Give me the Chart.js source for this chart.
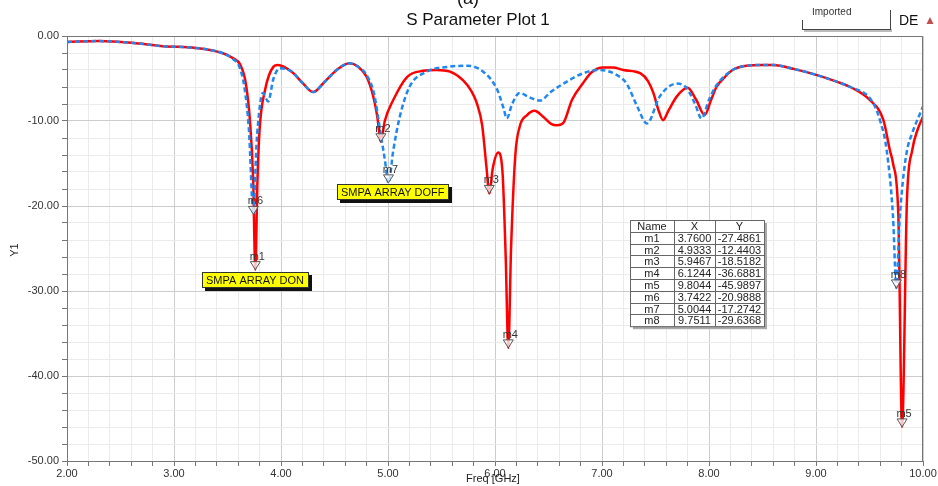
<!DOCTYPE html>
<html>
<head>
<meta charset="utf-8">
<script src="https://cdn.jsdelivr.net/npm/chart.js@4"></script>
<style>
  html, body { margin: 0; padding: 0; background: #fff; }
  #chart { display: block; }
</style>
</head>
<body>
<canvas id="chart" width="938" height="486"></canvas>
<script>
// SMPA ARRAY DON (red, solid)
var donFreq = [2.0, 2.3, 2.6, 2.9, 3.2, 3.45, 3.55, 3.62, 3.67, 3.71, 3.74, 3.76, 3.78, 3.80, 3.85, 3.93, 3.97,
  4.1, 4.2, 4.3, 4.4, 4.52, 4.64, 4.72, 4.8, 4.86, 4.9, 4.9333, 4.97, 5.05, 5.18, 5.33, 5.45, 5.58, 5.70, 5.78,
  5.83, 5.88, 5.92, 5.9467, 5.98, 6.03, 6.07, 6.1, 6.1244, 6.15, 6.19, 6.23, 6.3, 6.37, 6.45, 6.52, 6.58, 6.64,
  6.72, 6.82, 6.9, 7.01, 7.1, 7.2, 7.36, 7.43, 7.48, 7.53, 7.57, 7.62, 7.7, 7.8, 7.88, 7.96, 8.02, 8.07, 8.15,
  8.22, 8.35, 8.5, 8.6, 8.8, 9.01, 9.2, 9.32, 9.5, 9.63, 9.69, 9.72, 9.77, 9.8044, 9.85, 9.90, 9.95, 10.0];
var donS11 = [-0.7, -0.6, -0.8, -1.2, -1.4, -2.0, -2.6, -3.4, -5.5, -10, -17, -27.49, -17, -11, -6.4, -3.6, -3.4,
  -4.2, -5.5, -6.6, -5.5, -4.0, -3.2, -3.6, -4.8, -7, -9.5, -12.44, -10, -7.5, -4.8, -4.1, -4.0, -4.2, -5.2, -6.5,
  -7.9, -10.5, -15.4, -18.52, -15.5, -13.7, -16, -26, -36.69, -25, -14, -10.7, -9.3, -8.8, -9.5, -10.3, -10.5, -10.2,
  -7.5, -5.6, -4.3, -3.7, -3.7, -4.0, -4.4, -5.3, -6.7, -8.8, -9.9, -8.8, -7.1, -6.1, -7.5, -9.3, -7.5, -6.0, -4.8,
  -4.0, -3.5, -3.4, -3.4, -3.9, -4.6, -5.4, -6.0, -7.5, -9.9, -13.4, -15, -21.3, -45.99, -19.3, -13.4, -11, -9.5];

// SMPA ARRAY DOFF (blue, dashed)
var doffFreq = [2.0, 2.3, 2.6, 2.9, 3.2, 3.45, 3.55, 3.61, 3.66, 3.7, 3.7422, 3.77, 3.8, 3.83, 3.88, 3.93, 3.99,
  4.1, 4.2, 4.3, 4.4, 4.52, 4.64, 4.72, 4.8, 4.87, 4.93, 4.97, 5.0044, 5.05, 5.11, 5.2, 5.36, 5.58, 5.74, 5.89,
  6.02, 6.08, 6.11, 6.16, 6.23, 6.32, 6.42, 6.52, 6.64, 6.82, 6.98, 7.14, 7.23, 7.33, 7.42, 7.54, 7.70, 7.79,
  7.87, 7.93, 8.0, 8.07, 8.22, 8.35, 8.5, 8.6, 8.8, 9.01, 9.2, 9.32, 9.52, 9.6, 9.66, 9.72, 9.7511, 9.78, 9.81,
  9.85, 9.9, 10.0];
var doffS11 = [-0.7, -0.6, -0.8, -1.2, -1.4, -2.0, -2.7, -3.6, -6.2, -11, -20.99, -13, -8.5, -6.7, -7.7, -5, -3.8,
  -4.2, -5.5, -6.6, -5.5, -4.0, -3.2, -3.6, -4.6, -6.8, -11.4, -14.5, -17.27, -13.4, -9.5, -6, -4.2, -3.6, -3.5, -4.2,
  -6.3, -8.5, -9.7, -8, -6.7, -7.2, -7.6, -6.6, -5.6, -4.4, -4.0, -4.6, -5.6, -8.3, -10.3, -7.1, -5.6, -6.1,
  -8, -9.7, -7.5, -5.8, -4.0, -3.5, -3.4, -3.4, -3.9, -4.6, -5.4, -6.0, -7.6, -10, -13.4, -21.3, -29.64, -22, -17.3,
  -13.5, -11.4, -8.3];

// markers
var markerNames = ["m1", "m2", "m3", "m4", "m5", "m6", "m7", "m8"];
var markerFreq = [3.7600, 4.9333, 5.9467, 6.1244, 9.8044, 3.7422, 5.0044, 9.7511];
var markerVal = [-27.4861, -12.4403, -18.5182, -36.6881, -45.9897, -20.9888, -17.2742, -29.6368];

function toPoints(xs, ys) {
  var pts = [];
  for (var i = 0; i < xs.length; i++) pts.push({x: xs[i], y: ys[i]});
  return pts;
}

function isMajor(v) {
  return Math.abs(v / 10 - Math.round(v / 10)) < 1e-6;
}
function isWhole(v) {
  return Math.abs(v - Math.round(v)) < 1e-6;
}

var FONT = "'Liberation Sans', Arial, sans-serif";

var overlay = {
  id: "overlay",
  afterDatasetsDraw: function (chart) {
    var c = chart.ctx;
    var xs = chart.scales.x, ys = chart.scales.y;
    var a = chart.chartArea;

    // frame
    c.save();
    c.strokeStyle = "#777";
    c.lineWidth = 1;
    c.beginPath();
    c.moveTo(a.left, a.top + 0.5);
    c.lineTo(a.right - 0.5, a.top + 0.5);
    c.lineTo(a.right - 0.5, a.bottom);
    c.stroke();
    c.restore();

    // markers
    c.save();
    c.font = "11px " + FONT;
    c.textAlign = "center";
    c.textBaseline = "alphabetic";
    for (var i = 0; i < markerNames.length; i++) {
      var px = xs.getPixelForValue(markerFreq[i]);
      var py = ys.getPixelForValue(markerVal[i]);
      c.fillStyle = "rgba(255,255,255,0.75)";
      c.strokeStyle = "#555";
      c.lineWidth = 1;
      c.beginPath();
      c.moveTo(px, py);
      c.lineTo(px - 5, py - 8);
      c.lineTo(px + 5, py - 8);
      c.closePath();
      c.fill();
      c.stroke();
      c.fillStyle = "#333";
      c.fillText(markerNames[i], px + 2, py - 10);
    }
    c.restore();
  },
  afterDraw: function (chart) {
    var c = chart.ctx;
    c.save();

    // titles
    c.fillStyle = "#111";
    c.textAlign = "center";
    c.textBaseline = "middle";
    c.font = "18px " + FONT;
    c.fillText("(a)", 468, -1);
    c.font = "17px " + FONT;
    c.fillText("S Parameter Plot 1", 478, 20);

    c.font = "11px " + FONT;
    c.fillStyle = "#222";
    c.fillText("Freq [GHz]", 493, 479);
    c.save();
    c.translate(15, 250);
    c.rotate(-Math.PI / 2);
    c.fillText("Y1", 0, 0);
    c.restore();

    // legend remnant (top right), clipped at the top
    c.save();
    c.beginPath();
    c.rect(790, 8, 110, 30);
    c.clip();
    c.fillStyle = "#bbb";
    c.fillRect(804, 29, 88, 3);
    c.fillStyle = "#fff";
    c.fillRect(802, 0, 88, 29);
    c.strokeStyle = "#444";
    c.lineWidth = 1;
    c.beginPath();
    c.moveTo(802.5, 20); c.lineTo(802.5, 30);
    c.moveTo(890.5, 10); c.lineTo(890.5, 30);
    c.moveTo(802, 29.5); c.lineTo(891, 29.5);
    c.stroke();
    c.fillStyle = "#333";
    c.font = "10px " + FONT;
    c.textAlign = "left";
    c.textBaseline = "alphabetic";
    c.fillText("Imported", 812, 15);
    c.restore();

    c.textAlign = "left";
    c.textBaseline = "middle";
    c.font = "14px " + FONT;
    c.fillStyle = "#111";
    c.fillText("DE", 899, 21);
    c.fillStyle = "#c0504d";
    c.beginPath();
    c.moveTo(930, 17); c.lineTo(926.5, 24); c.lineTo(933.5, 24);
    c.closePath();
    c.fill();

    // yellow notes
    function note(text, x, y, w, h) {
      c.fillStyle = "#111";
      c.fillRect(x + 3, y + 3, w, h);
      c.fillStyle = "#ffff00";
      c.fillRect(x, y, w, h);
      c.strokeStyle = "#333";
      c.strokeRect(x + 0.5, y + 0.5, w - 1, h - 1);
      c.fillStyle = "#111";
      c.font = "11px " + FONT;
      c.textAlign = "left";
      c.textBaseline = "middle";
      c.fillText(text, x + 4, y + h / 2 + 1);
    }
    note("SMPA ARRAY DON", 202, 272, 107, 16);
    note("SMPA ARRAY DOFF", 337, 184, 112, 16);

    // marker table
    var tx = 630, ty = 220, rh = 11.8;
    var cols = [tx, 674, 715, 764];
    var rows = markerNames.length + 1;
    var th = rh * rows;
    c.fillStyle = "#aaa";
    c.fillRect(tx + 3, ty + 3, cols[3] - tx, th);
    c.fillStyle = "#fff";
    c.fillRect(tx, ty, cols[3] - tx, th);
    c.strokeStyle = "#666";
    c.lineWidth = 1;
    c.strokeRect(tx + 0.5, ty + 0.5, cols[3] - tx, th);
    c.beginPath();
    for (var k = 1; k < 3; k++) {
      c.moveTo(cols[k] + 0.5, ty); c.lineTo(cols[k] + 0.5, ty + th);
    }
    for (var r = 1; r < rows; r++) {
      c.moveTo(tx, Math.round(ty + r * rh) + 0.5);
      c.lineTo(cols[3], Math.round(ty + r * rh) + 0.5);
    }
    c.stroke();
    c.fillStyle = "#222";
    c.font = "11px " + FONT;
    c.textAlign = "center";
    c.textBaseline = "middle";
    var head = ["Name", "X", "Y"];
    for (var h = 0; h < 3; h++) c.fillText(head[h], (cols[h] + cols[h + 1]) / 2, ty + rh / 2 + 1);
    for (var m = 0; m < markerNames.length; m++) {
      var yy = ty + rh * (m + 1) + rh / 2 + 1;
      c.fillText(markerNames[m], (cols[0] + cols[1]) / 2, yy);
      c.fillText(markerFreq[m].toFixed(4), (cols[1] + cols[2]) / 2, yy);
      c.fillText(markerVal[m].toFixed(4), (cols[2] + cols[3]) / 2, yy);
    }
    c.restore();
  }
};

var ctx = document.getElementById("chart");

var myChart = new Chart(ctx, {
  type: "scatter",
  data: {
    datasets: [{
      label: "SMPA ARRAY DON",
      data: toPoints(donFreq, donS11),
      showLine: true,
      order: 2,
      borderColor: "#ff0000",
      borderWidth: 2.5,
      pointRadius: 0,
      cubicInterpolationMode: "monotone"
    }, {
      label: "SMPA ARRAY DOFF",
      data: toPoints(doffFreq, doffS11),
      showLine: true,
      order: 1,
      borderColor: "#1e88f0",
      borderWidth: 2.5,
      borderDash: [5, 3],
      pointRadius: 0,
      cubicInterpolationMode: "monotone"
    }]
  },
  options: {
    responsive: false,
    animation: false,
    devicePixelRatio: 1,
    layout: { padding: { left: 0, right: 15, top: 36, bottom: 0 } },
    plugins: {
      legend: { display: false },
      tooltip: { enabled: false }
    },
    scales: {
      x: {
        type: "linear",
        min: 2,
        max: 10,
        afterFit: function (s) { s.height = 25; },
        ticks: {
          stepSize: 0.2,
          autoSkip: false,
          maxRotation: 0,
          padding: 1,
          color: "#333",
          font: { family: FONT, size: 11 },
          callback: function (v) { return isWhole(v) ? v.toFixed(2) : ""; }
        },
        grid: {
          color: function (g) { return g.tick && isWhole(g.tick.value) ? "#cccccc" : "#ebebeb"; },
          tickColor: "#777",
          tickLength: 5
        },
        border: { color: "#777" }
      },
      y: {
        min: -50,
        max: 0,
        afterFit: function (s) { s.width = 67; },
        ticks: {
          stepSize: 2,
          padding: 3,
          color: "#333",
          font: { family: FONT, size: 11 },
          callback: function (v) { return isMajor(v) ? v.toFixed(2) : ""; }
        },
        grid: {
          color: function (g) { return g.tick && isMajor(g.tick.value) ? "#cccccc" : "#ebebeb"; },
          tickColor: "#777",
          tickLength: 5
        },
        border: { color: "#777" }
      }
    }
  },
  plugins: [overlay]
});
</script>
</body>
</html>
